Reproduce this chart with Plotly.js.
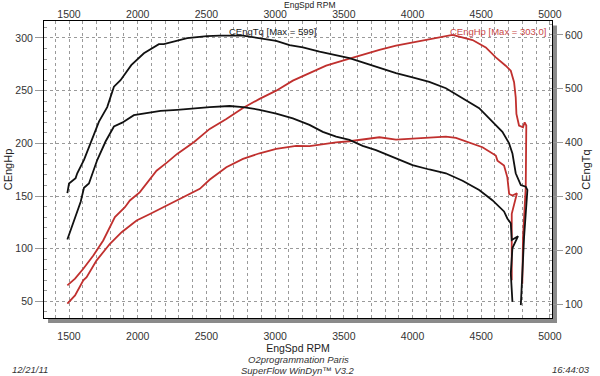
<!DOCTYPE html>
<html>
<head>
<meta charset="utf-8">
<script src="https://cdn.plot.ly/plotly-3.0.1.min.js"></script>
<style>html,body{margin:0;padding:0;background:#fff;}#chart{width:600px;height:376px;}</style>
</head>
<body>
<div id="chart"></div>
<script>
// Run A torque (black, right axis)
const rpmTqA = [1488,1500,1548,1560,1609,1657,1718,1778,1827,1875,1953,2045,2154,2190,2287,2360,2504,2597,2766,2887,3008,3105,3202,3323,3444,3541,3637,3734,3880,4000,4122,4243,4364,4485,4581,4654,4702,4727,4751,4788,4824,4836,4812,4800,4788];
const tqA    = [306,324,334,343,368,399,439,466,504,516,544,566,583,583,589,594,598,599,599,594,589,581,577,569,563,557,549,541,529,521,513,501,482,464,439,420,399,380,343,321,318,312,225,150,98];
// Run B torque (black, right axis)
const rpmTqB = [1488,1536,1585,1609,1645,1706,1766,1827,1887,1972,2045,2166,2287,2408,2524,2669,2766,2887,3008,3129,3250,3347,3444,3541,3637,3734,3880,4000,4122,4243,4364,4485,4581,4617,4666,4690,4715,4722,4768,4727,4715,4727];
const tqB    = [220,256,290,316,324,368,402,430,437,451,454,459,461,464,466,468,466,461,454,445,433,420,411,405,394,386,371,358,350,343,329,312,293,284,272,259,250,219,226,204,157,104];
// Run A power (red, left axis)
const rpmHpA = [1488,1544,1604,1677,1749,1834,1907,1943,2016,2137,2214,2287,2408,2524,2645,2766,2887,3008,3129,3250,3371,3492,3613,3759,3880,4000,4122,4243,4290,4340,4437,4533,4606,4678,4715,4739,4751,4756,4775,4804,4816,4828,4824,4804,4799];
const hpA    = [65.2,71.6,81,93.6,107.9,130,139.4,145.8,153.7,174,182,190,201,213.7,223.2,233.6,242.2,250,259.5,266.8,273.7,278.5,283.2,288.6,292.7,295.8,299,301.5,303,301.2,298,291,281.6,273.7,269,258,243.7,228,216.9,215.3,220,216.9,158.4,111,66.8];
// Run B power (red, left axis)
const rpmHpB = [1488,1544,1604,1628,1701,1798,1883,1992,2089,2210,2331,2452,2525,2645,2766,2887,3008,3153,3250,3323,3444,3541,3637,3759,3880,4000,4122,4243,4316,4412,4509,4606,4618,4666,4690,4703,4727,4760,4722,4722];
const hpB    = [47.9,55.7,70,73,89,104.7,115.7,126.8,133,141,148.3,156.9,165.7,177.4,185.3,190.6,194.8,197.6,197.3,198.9,201,202,203.6,205.8,203.6,204.3,205.2,206.4,205.2,201,196.3,188.4,183.6,178.9,167.8,152,150.5,152.7,133.2,70];

const xTicks = [1500,2000,2500,3000,3500,4000,4500,5000];
const hpTicks = [50,100,150,200,250,300];
const tqTicks = [100,200,300,400,500,600];

const BLACK = '#111111', RED = '#c0302e';
const FONT = 'Liberation Sans, Arial, sans-serif';

const traces = [
  {x: rpmTqA, y: tqA, yaxis: 'y2', mode: 'lines', line: {color: BLACK, width: 1.8}, hoverinfo: 'skip'},
  {x: rpmTqB, y: tqB, yaxis: 'y2', mode: 'lines', line: {color: BLACK, width: 1.8}, hoverinfo: 'skip'},
  {x: rpmHpA, y: hpA, mode: 'lines', line: {color: RED, width: 1.8}, hoverinfo: 'skip'},
  {x: rpmHpB, y: hpB, mode: 'lines', line: {color: RED, width: 1.8}, hoverinfo: 'skip'},
  {x: [3000], y: [100], xaxis: 'x2', mode: 'markers', marker: {opacity: 0}, hoverinfo: 'skip'}
];

const xr = [1318, 5015];
const layout = {
  width: 600, height: 376,
  margin: {l: 44, r: 48, t: 21, b: 58},
  paper_bgcolor: '#ffffff', plot_bgcolor: '#ffffff',
  showlegend: false,
  font: {family: FONT, size: 10, color: '#333333'},
  xaxis: {
    range: xr, tickvals: xTicks, ticktext: xTicks.map(String),
    showgrid: true, gridcolor: '#9a9a9a', griddash: 'dot', gridwidth: 1,
    minor: {dtick: 100, tick0: 0, showgrid: true, gridcolor: '#9a9a9a', griddash: 'dot', gridwidth: 1, ticks: ''},
    ticks: 'outside', ticklen: 8, tickcolor: 'rgba(0,0,0,0)',
    showline: true, linecolor: '#000', linewidth: 1, mirror: true, zeroline: false,
    tickfont: {size: 10.5, color: '#333'},
    title: {text: 'EngSpd RPM', font: {size: 10.5, color: '#222'}, standoff: 0}
  },
  xaxis2: {
    overlaying: 'x', side: 'top', matches: 'x', range: xr,
    tickvals: xTicks, ticktext: xTicks.map(String), showgrid: false, zeroline: false,
    ticks: '', tickfont: {size: 10.5, color: '#333'}
  },
  yaxis: {
    range: [34.3, 316.1], tickvals: hpTicks, ticktext: hpTicks.map(String),
    showgrid: true, gridcolor: '#9a9a9a', griddash: 'dot', gridwidth: 1,
    ticks: 'outside', ticklen: 8, tickcolor: '#999', zeroline: false,
    minor: {dtick: 10, tick0: 0, ticks: 'inside', ticklen: 3, tickcolor: '#999', showgrid: false},
    showline: true, linecolor: '#000', linewidth: 1, mirror: true,
    tickfont: {size: 10.5, color: '#333'},
    title: {text: 'CEngHp', font: {size: 11, color: '#222'}, standoff: 0}
  },
  yaxis2: {
    overlaying: 'y', side: 'right', range: [74, 626],
    tickvals: tqTicks, ticktext: tqTicks.map(String),
    showgrid: false, zeroline: false,
    ticks: 'outside', ticklen: 10, tickcolor: '#999',
    minor: {dtick: 20, tick0: 0, ticks: 'inside', ticklen: 3, tickcolor: '#999', showgrid: false},
    tickfont: {size: 10.5, color: '#333'},
    title: {text: 'CEngTq', font: {size: 11, color: '#222'}, standoff: 0}
  },
  shapes: [
    {type: 'rect', xref: 'paper', yref: 'paper', x0: 1.0, x1: 1.0098, y0: -0.0168, y1: 0.985, fillcolor: '#8a8a8a', line: {width: 0}, layer: 'below'},
    {type: 'rect', xref: 'paper', yref: 'paper', x0: 0.008, x1: 1.0098, y0: -0.0168, y1: 0, fillcolor: '#8a8a8a', line: {width: 0}, layer: 'below'}
  ],
  annotations: [
    {text: 'EngSpd RPM', xref: 'paper', yref: 'paper', x: 0.5236, y: 1, yshift: 16, xanchor: 'center', yanchor: 'middle', showarrow: false, font: {size: 8.5, color: '#222'}},
    {text: 'CEngTq [Max = 599]', xref: 'x', yref: 'paper', x: 2980, y: 1, yshift: -10, xanchor: 'center', yanchor: 'middle', showarrow: false, font: {size: 9.5, color: '#222'}},
    {text: 'CEngHp [Max = 303.0]', xref: 'x', yref: 'paper', x: 4625, y: 1, yshift: -10, xanchor: 'center', yanchor: 'middle', showarrow: false, font: {size: 9.5, color: '#c84848'}},
    {text: '<i>12/21/11</i>', xref: 'paper', yref: 'paper', x: -0.067, y: 0, yshift: -51, xanchor: 'left', yanchor: 'middle', showarrow: false, font: {size: 9.5, color: '#333'}},
    {text: '<i>O2programmation Paris</i>', xref: 'paper', yref: 'paper', x: 0.5, y: 0, yshift: -41, xanchor: 'center', yanchor: 'middle', showarrow: false, font: {size: 9.5, color: '#333'}},
    {text: '<i>SuperFlow WinDyn™ V3.2</i>', xref: 'paper', yref: 'paper', x: 0.5, y: 0, yshift: -52, xanchor: 'center', yanchor: 'middle', showarrow: false, font: {size: 9.5, color: '#333'}},
    {text: '<i>16:44:03</i>', xref: 'paper', yref: 'paper', x: 1.079, y: 0, yshift: -51, xanchor: 'right', yanchor: 'middle', showarrow: false, font: {size: 9.5, color: '#333'}}
  ]
};

Plotly.newPlot('chart', traces, layout, {staticPlot: true, displayModeBar: false});
</script>
</body>
</html>
